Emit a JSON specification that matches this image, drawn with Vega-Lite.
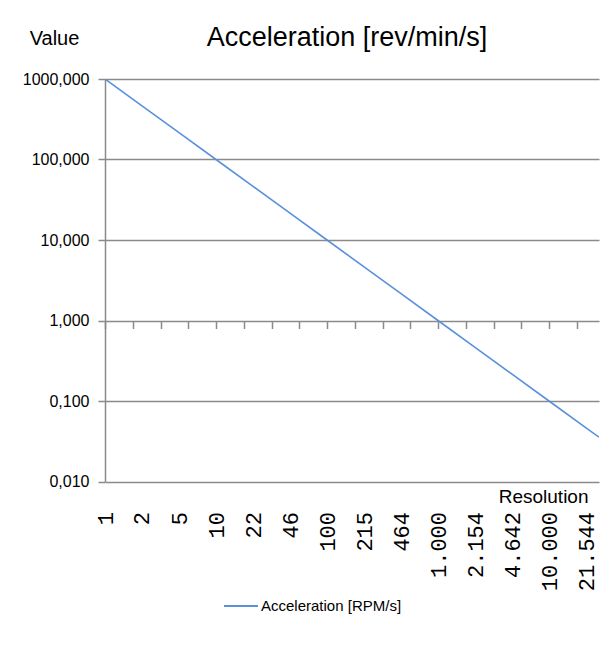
{
  "$schema": "https://vega.github.io/schema/vega-lite/v6.json",
  "width": 494,
  "height": 402.5,
  "autosize": {"type": "none"},
  "padding": {"left": 105, "top": 79, "right": 9, "bottom": 163.5},
  "background": "white",
  "title": {
    "text": "Acceleration [rev/min/s]",
    "font": "Liberation Sans",
    "fontSize": 27,
    "fontWeight": "normal",
    "color": "#000000",
    "anchor": "middle",
    "frame": "group",
    "dx": -5,
    "dy": 28
  },
  "data": {
    "values": [
      {"res": 1, "value": 1000, "series": "Acceleration [RPM/s]"},
      {"res": 2.154, "value": 464.2, "series": "Acceleration [RPM/s]"},
      {"res": 4.642, "value": 215.4, "series": "Acceleration [RPM/s]"},
      {"res": 10, "value": 100, "series": "Acceleration [RPM/s]"},
      {"res": 21.544, "value": 46.42, "series": "Acceleration [RPM/s]"},
      {"res": 46.416, "value": 21.54, "series": "Acceleration [RPM/s]"},
      {"res": 100, "value": 10, "series": "Acceleration [RPM/s]"},
      {"res": 215.443, "value": 4.642, "series": "Acceleration [RPM/s]"},
      {"res": 464.159, "value": 2.154, "series": "Acceleration [RPM/s]"},
      {"res": 1000, "value": 1, "series": "Acceleration [RPM/s]"},
      {"res": 2154.43, "value": 0.4642, "series": "Acceleration [RPM/s]"},
      {"res": 4641.59, "value": 0.2154, "series": "Acceleration [RPM/s]"},
      {"res": 10000, "value": 0.1, "series": "Acceleration [RPM/s]"},
      {"res": 21544.3, "value": 0.04642, "series": "Acceleration [RPM/s]"},
      {"res": 28200, "value": 0.0355, "series": "Acceleration [RPM/s]"}
    ]
  },
  "layer": [
    {
      "mark": {"type": "line", "strokeWidth": 1.6, "clip": true},
      "encoding": {
        "x": {
          "field": "res",
          "type": "quantitative",
          "scale": {"type": "log", "domain": [1, 28200], "nice": false},
          "axis": {
            "orient": "bottom",
            "values": [1, 2.154, 4.642, 10, 21.544, 46.416, 100, 215.443, 464.159, 1000, 2154.43, 4641.59, 10000, 21544.3],
            "labelExpr": "replace(format(datum.value, ',.0f'), ',', '.')",
            "labelAngle": 270,
            "labelAlign": "right",
            "labelBaseline": "middle",
            "labelFont": "Liberation Mono",
            "labelFontSize": 22,
            "labelColor": "#000000",
            "labelPadding": 30,
            "labelOverlap": false,
            "labelFlush": false,
            "labelBound": false,
            "ticks": false,
            "domain": false,
            "grid": false,
            "title": "Resolution",
            "titleX": 483,
            "titleY": 21,
            "titleAlign": "right",
            "titleBaseline": "alphabetic",
            "titleAnchor": null,
            "titleFont": "Liberation Sans",
            "titleFontSize": 19,
            "titleFontWeight": "normal",
            "titleColor": "#000000"
          }
        },
        "y": {
          "field": "value",
          "type": "quantitative",
          "scale": {"type": "log", "domain": [0.01, 1000], "nice": false},
          "axis": {
            "values": [0.01, 0.1, 1, 10, 100, 1000],
            "labelExpr": "replace(format(datum.value, '.3f'), '.', ',')",
            "labelFont": "Liberation Sans",
            "labelFontSize": 16,
            "labelColor": "#000000",
            "labelPadding": 9,
            "tickSize": 7,
            "tickColor": "#8a8a8a",
            "tickWidth": 1.5,
            "domainColor": "#8a8a8a",
            "domainWidth": 1.5,
            "gridColor": "#8a8a8a",
            "gridWidth": 1.5,
            "grid": true,
            "title": "Value",
            "titleAngle": 0,
            "titleX": -51,
            "titleY": -41,
            "titleAlign": "center",
            "titleBaseline": "middle",
            "titleAnchor": null,
            "titleFont": "Liberation Sans",
            "titleFontSize": 20,
            "titleFontWeight": "normal",
            "titleColor": "#000000"
          }
        },
        "color": {
          "field": "series",
          "type": "nominal",
          "scale": {"range": ["#5a90dc"]},
          "legend": {
            "orient": "none",
            "legendX": 118,
            "legendY": 509,
            "title": null,
            "symbolType": "stroke",
            "symbolSize": 1156,
            "symbolStrokeWidth": 2,
            "labelFont": "Liberation Sans",
            "labelFontSize": 15,
            "labelColor": "#000000",
            "labelOffset": 2,
            "labelLimit": 0,
            "padding": 0
          }
        }
      }
    },
    {
      "mark": {"type": "line", "opacity": 0},
      "encoding": {
        "x": {
          "field": "res",
          "type": "quantitative",
          "axis": {
            "orient": "bottom",
            "offset": -161,
            "values": [1, 1.77828, 3.16228, 5.62341, 10, 17.7828, 31.6228, 56.2341, 100, 177.828, 316.228, 562.341, 1000, 1778.28, 3162.28, 5623.41, 10000, 17782.8],
            "labels": false,
            "domain": false,
            "grid": false,
            "ticks": true,
            "tickSize": 8,
            "tickColor": "#8a8a8a",
            "tickWidth": 1.5,
            "title": null
          }
        },
        "y": {"field": "value", "type": "quantitative"}
      }
    }
  ],
  "resolve": {"axis": {"x": "independent"}},
  "config": {"view": {"stroke": null}}
}
